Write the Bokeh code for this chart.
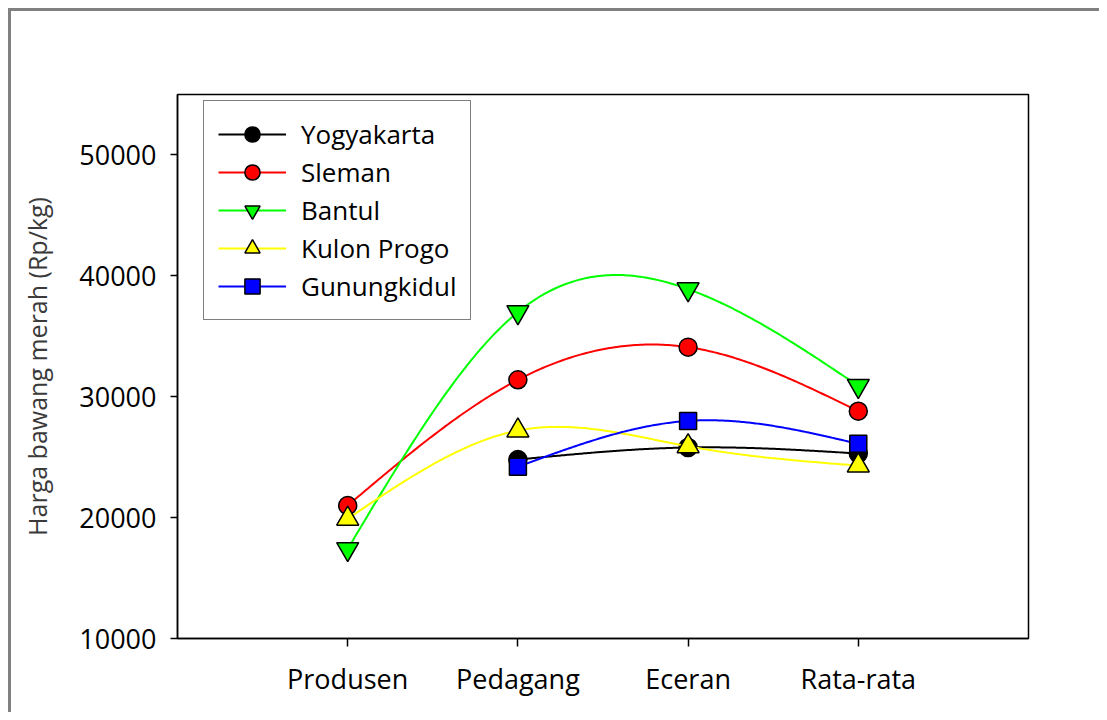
import numpy as np
from bokeh.plotting import figure
from bokeh.models import Range1d, FixedTicker, Legend, LegendItem, BasicTickFormatter
from bokeh.embed import file_html
from bokeh.resources import INLINE

# ---- data ----
categories = ["Produsen", "Pedagang", "Eceran", "Rata-rata"]
cat_pos = [1, 2, 3, 4]
series_names = ["Yogyakarta", "Sleman", "Bantul", "Kulon Progo", "Gunungkidul"]
yogyakarta = [None, 24800, 25800, 25300]
sleman = [21000, 31400, 34100, 28800]
bantul = [17400, 37000, 38900, 30900]
kulon_progo = [19900, 27200, 25900, 24300]
gunungkidul = [None, 24200, 28000, 26100]
y_ticks = [10000, 20000, 30000, 40000, 50000]

series_values = [yogyakarta, sleman, bantul, kulon_progo, gunungkidul]
series_colors = ["#000000", "#ff0000", "#00ff00", "#ffff00", "#0000ff"]
series_markers = ["circle", "circle", "inverted_triangle", "triangle", "square"]
marker_sizes = {"circle": 18, "inverted_triangle": 22, "triangle": 22, "square": 17}


def natural_spline(xs, ys, n=200):
    xs = np.asarray(xs, float)
    ys = np.asarray(ys, float)
    k = len(xs)
    h = np.diff(xs)
    A = np.zeros((k, k))
    b = np.zeros(k)
    A[0, 0] = 1
    A[-1, -1] = 1
    for i in range(1, k - 1):
        A[i, i - 1] = h[i - 1]
        A[i, i] = 2 * (h[i - 1] + h[i])
        A[i, i + 1] = h[i]
        b[i] = 6 * ((ys[i + 1] - ys[i]) / h[i] - (ys[i] - ys[i - 1]) / h[i - 1])
    M = np.linalg.solve(A, b)
    xx = np.linspace(xs[0], xs[-1], n)
    idx = np.clip(np.searchsorted(xs, xx) - 1, 0, k - 2)
    x0 = xs[idx]
    x1 = xs[idx + 1]
    hh = x1 - x0
    t0 = x1 - xx
    t1 = xx - x0
    yy = (M[idx] * t0 ** 3 / (6 * hh) + M[idx + 1] * t1 ** 3 / (6 * hh)
          + (ys[idx] / hh - M[idx] * hh / 6) * t0
          + (ys[idx + 1] / hh - M[idx + 1] * hh / 6) * t1)
    return xx, yy


p = figure(width=1091, height=704, title=None,
           x_range=Range1d(0, 5), y_range=Range1d(10000, 55000),
           output_backend="svg", toolbar_location=None,
           min_border_left=166, min_border_right=74,
           min_border_top=83, min_border_bottom=77)
p.styles = {"border-left": "3px solid #808080", "border-top": "3px solid #808080",
            "margin-left": "8px", "margin-top": "8px"}

p.background_fill_color = "white"
p.border_fill_color = "white"
p.outline_line_color = "black"
p.outline_line_width = 1.5
p.grid.visible = False

# axes
p.xaxis.ticker = FixedTicker(ticks=cat_pos)
p.xaxis.major_label_overrides = {k: v for k, v in zip(cat_pos, categories)}
p.yaxis.ticker = FixedTicker(ticks=y_ticks)
p.yaxis.formatter = BasicTickFormatter(use_scientific=False)
for ax in (p.xaxis[0], p.yaxis[0]):
    ax.axis_line_color = "black"
    ax.axis_line_width = 1.5
    ax.major_tick_line_color = "black"
    ax.major_tick_line_width = 1.5
    ax.major_tick_in = 0
    ax.major_tick_out = 7
    ax.minor_tick_out = 0
    ax.minor_tick_in = 0
    ax.major_label_text_font = "Open Sans"
    ax.major_label_text_font_size = "27px"
    ax.major_label_text_color = "black"
p.xaxis.major_tick_out = 8
p.xaxis.major_label_standoff = 13
p.yaxis.major_label_standoff = 14
p.yaxis.axis_label = "Harga bawang merah (Rp/kg)"
p.yaxis.axis_label_text_font = "Open Sans"
p.yaxis.axis_label_text_font_size = "25px"
p.yaxis.axis_label_text_font_style = "normal"
p.yaxis.axis_label_text_color = "#3a3a3a"
p.yaxis.axis_label_standoff = 22

items = []
for name, vals, col, mk in zip(series_names, series_values, series_colors, series_markers):
    xs = [x for x, v in zip(cat_pos, vals) if v is not None]
    ys = [v for v in vals if v is not None]
    sx, sy = natural_spline(xs, ys)
    lr = p.line(sx, sy, line_color=col, line_width=2)
    sr = p.scatter(xs, ys, marker=mk, size=marker_sizes[mk], fill_color=col,
                   line_color="black", line_width=1.5)
    items.append(LegendItem(label=name, renderers=[lr, sr]))

legend = Legend(items=items, location=(26, 318))
legend.label_text_font = "Open Sans"
legend.label_text_font_size = "26px"
legend.label_text_color = "black"
legend.border_line_color = "black"
legend.border_line_width = 1.5
legend.background_fill_color = "white"
legend.background_fill_alpha = 1.0
legend.glyph_width = 68
legend.glyph_height = 38
legend.label_height = 30
legend.spacing = 0
legend.padding = 14
legend.label_standoff = 15
legend.margin = 0
p.add_layout(legend)

open("out.html", "w").write(file_html(p, INLINE))
